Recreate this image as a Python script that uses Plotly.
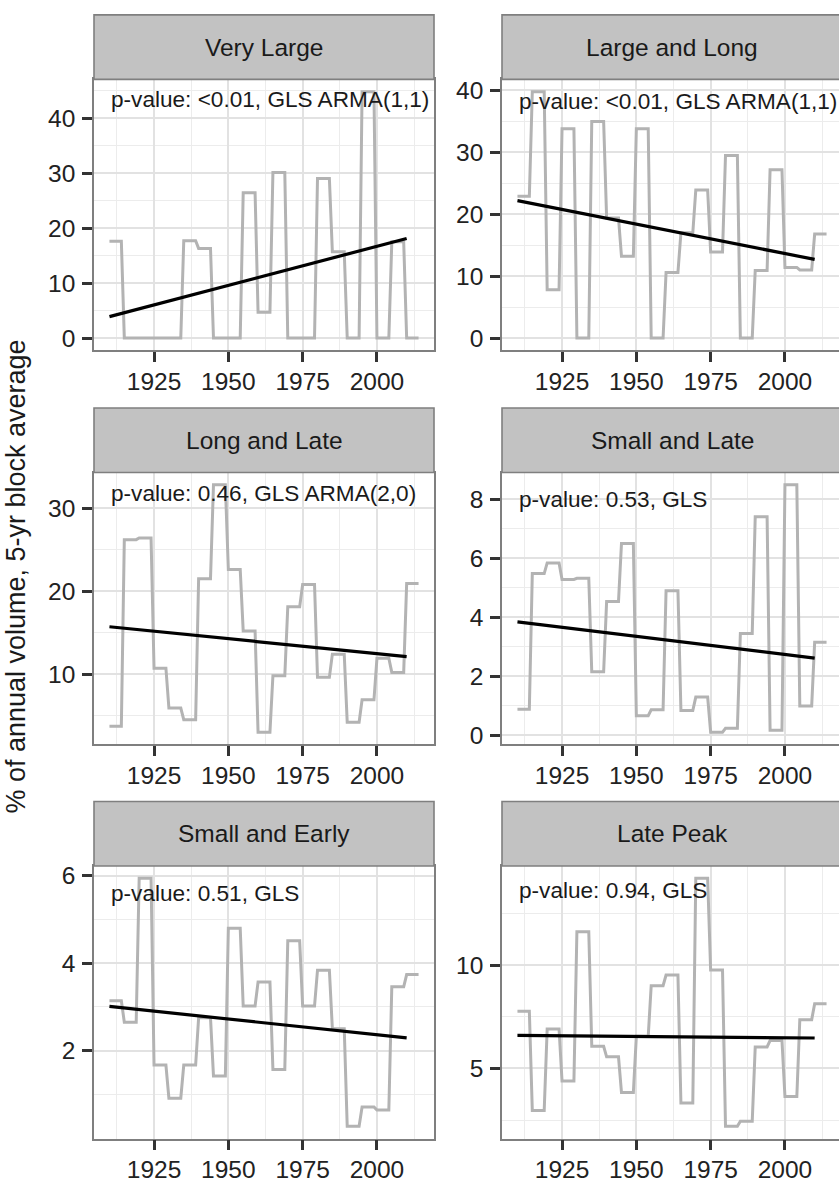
import plotly.graph_objects as go

# ---------------- data ----------------
block_start_years = list(range(1910, 2015, 5))   # 21 five-year blocks, 1910-2014
block_length = 5

panel_titles = ["Very Large", "Large and Long", "Long and Late",
                "Small and Late", "Small and Early", "Late Peak"]

very_large = [17.6, 0, 0, 0, 0, 17.7, 16.3, 0, 0, 26.4, 4.7, 30.1, 0, 0,
              29.0, 15.7, 0, 44.8, 0, 17.5, 0]
large_and_long = [22.9, 39.8, 7.8, 33.8, 0, 35.0, 19.4, 13.2, 33.8, 0, 10.6,
                  17.0, 23.9, 13.9, 29.5, 0, 10.9, 27.2, 11.4, 11.0, 16.8]
long_and_late = [3.7, 26.2, 26.4, 10.7, 5.9, 4.5, 21.5, 32.8, 22.6, 15.2, 3.0,
                 9.8, 18.1, 20.8, 9.6, 12.4, 4.2, 6.9, 11.9, 10.2, 20.9]
small_and_late = [0.88, 5.48, 5.84, 5.28, 5.32, 2.15, 4.53, 6.50, 0.66, 0.86,
                  4.90, 0.83, 1.29, 0.10, 0.23, 3.45, 7.41, 0.16, 8.49, 0.99, 3.15]
small_and_early = [3.14, 2.65, 5.94, 1.67, 0.91, 1.67, 2.75, 1.42, 4.80, 3.02,
                   3.57, 1.57, 4.51, 3.02, 3.84, 2.50, 0.27, 0.71, 0.64, 3.46, 3.74]
late_peak = [7.77, 2.96, 6.91, 4.39, 11.62, 6.07, 5.56, 3.83, 6.55, 9.00, 9.52,
             3.32, 14.20, 9.76, 2.20, 2.44, 6.04, 6.35, 3.64, 7.36, 8.13]

series = [very_large, large_and_long, long_and_late,
          small_and_late, small_and_early, late_peak]

trend_years = [1910, 2010]
trend_start = [3.9, 22.2, 15.7, 3.84, 3.01, 6.60]
trend_end = [18.1, 12.7, 12.1, 2.61, 2.29, 6.47]

pvalue_labels = ["p-value: &lt;0.01, GLS ARMA(1,1)",
                 "p-value: &lt;0.01, GLS ARMA(1,1)",
                 "p-value: 0.46, GLS ARMA(2,0)",
                 "p-value: 0.53, GLS",
                 "p-value: 0.51, GLS",
                 "p-value: 0.94, GLS"]

y_tick_values = [[0, 10, 20, 30, 40], [0, 10, 20, 30, 40], [10, 20, 30],
                 [0, 2, 4, 6, 8], [2, 4, 6], [5, 10]]
x_tick_values = [1925, 1950, 1975, 2000]

y_title = "% of annual volume, 5-yr block average"

# ---------------- layout geometry (pixels) ----------------
W, H = 839, 1183
col_x0 = [94, 502]
col_w = 340
row_top = [76, 472.5, 869.3]
row_bottom = [349.3, 746.8, 1144.3]
strip_h = 65
label_y = [43.4, 38.2, 31.8, 8.0, 5.6, 13.6]   # annotation y (data units)

FONT = "Liberation Sans, Arial, Helvetica, sans-serif"
GREY_LINE = "#b3b3b3"
BORDER = "#7f7f7f"

fig = go.Figure()

lo_x = min(block_start_years)
hi_x = max(block_start_years) + block_length - 1
padx = 0.05 * (hi_x - lo_x)
x_full = [lo_x - padx, hi_x + padx]

x_minor = [t - 12.5 for t in x_tick_values] + [x_tick_values[-1] + 12.5]

shapes = []
annotations = []
layout_axes = {}

for i in range(6):
    r, c = divmod(i, 2)
    ax = "" if i == 0 else str(i + 1)
    vals = series[i]

    xs, ys = [], []
    for s, v in zip(block_start_years, vals):
        xs += [s, s + block_length - 1]
        ys += [v, v]

    fig.add_trace(go.Scatter(x=xs, y=ys, mode="lines",
                             line=dict(color=GREY_LINE, width=3),
                             xaxis="x" + ax, yaxis="y" + ax,
                             showlegend=False, hoverinfo="skip"))
    fig.add_trace(go.Scatter(x=trend_years, y=[trend_start[i], trend_end[i]],
                             mode="lines", line=dict(color="black", width=3.2),
                             xaxis="x" + ax, yaxis="y" + ax,
                             showlegend=False, hoverinfo="skip"))

    x0 = col_x0[c]
    x1 = min(x0 + col_w, W)
    xdom = [x0 / W, x1 / W]
    ydom = [1 - row_bottom[r] / H, 1 - row_top[r] / H]
    xr = [x_full[0], x_full[0] + (x_full[1] - x_full[0]) * (x1 - x0) / col_w]

    lo_y, hi_y = min(vals), max(vals)
    pady = 0.05 * (hi_y - lo_y)
    yr = [lo_y - pady, hi_y + pady]
    yt = y_tick_values[i]
    step = yt[1] - yt[0]
    y_minor = [t - step / 2 for t in yt] + [yt[-1] + step / 2]

    layout_axes["xaxis" + ax] = dict(
        domain=xdom, range=xr, anchor="y" + ax,
        tickmode="array", tickvals=x_tick_values,
        ticks="outside", ticklen=10, tickwidth=2.6, tickcolor="#333333",
        tickfont=dict(family=FONT, size=24.5, color="#222222"),
        showgrid=True, gridcolor="#e2e2e2", gridwidth=1.8,
        minor=dict(tickmode="array", tickvals=x_minor, showgrid=True,
                   gridcolor="#ececec", gridwidth=1.2, ticks=""),
        showline=True, linecolor=BORDER, linewidth=1.6, mirror=True,
        zeroline=False, fixedrange=True, ticklabelstandoff=-2)
    layout_axes["yaxis" + ax] = dict(
        domain=ydom, range=yr, anchor="x" + ax,
        tickmode="array", tickvals=yt,
        ticks="outside", ticklen=10, tickwidth=2.6, tickcolor="#333333",
        tickfont=dict(family=FONT, size=24.5, color="#222222"),
        showgrid=True, gridcolor="#e2e2e2", gridwidth=1.8,
        minor=dict(tickmode="array", tickvals=y_minor, showgrid=True,
                   gridcolor="#ececec", gridwidth=1.2, ticks=""),
        showline=True, linecolor=BORDER, linewidth=1.6, mirror=(c == 0),
        zeroline=False, fixedrange=True, ticklabelstandoff=2)

    # strip
    sx1 = (x0 + col_w) / W if c == 0 else 1.01
    shapes.append(dict(type="rect", xref="paper", yref="paper",
                       x0=x0 / W, x1=sx1,
                       y0=1 - row_top[r] / H, y1=1 - (row_top[r] - strip_h) / H,
                       fillcolor="#c2c2c2", line=dict(color=BORDER, width=1.6),
                       layer="above"))
    annotations.append(dict(xref="paper", yref="paper",
                            x=(x0 + col_w / 2) / W,
                            y=1 - (row_top[r] - strip_h / 2) / H,
                            text=panel_titles[i], showarrow=False,
                            xanchor="center", yanchor="middle",
                            font=dict(family=FONT, size=24.5, color="#1a1a1a")))
    annotations.append(dict(xref="x" + ax, yref="y" + ax,
                            x=trend_years[0], y=label_y[i],
                            text=pvalue_labels[i], showarrow=False,
                            xanchor="left", yanchor="middle",
                            font=dict(family=FONT, size=22.6, color="#1a1a1a")))

annotations.append(dict(xref="paper", yref="paper", x=0,
                        y=1 - 577.5 / H, text=y_title, textangle=-90,
                        showarrow=False, xanchor="left", yanchor="middle",
                        borderpad=0,
                        font=dict(family=FONT, size=27, color="#1a1a1a")))

fig.update_layout(width=W, height=H, margin=dict(l=0, r=0, t=0, b=0),
                  paper_bgcolor="white", plot_bgcolor="white",
                  shapes=shapes, annotations=annotations,
                  font=dict(family=FONT), **layout_axes)

fig.write_html("out.html", config={"displayModeBar": False},
               post_script="document.body.style.margin='0px';"
                           "document.body.style.overflow='hidden';")
